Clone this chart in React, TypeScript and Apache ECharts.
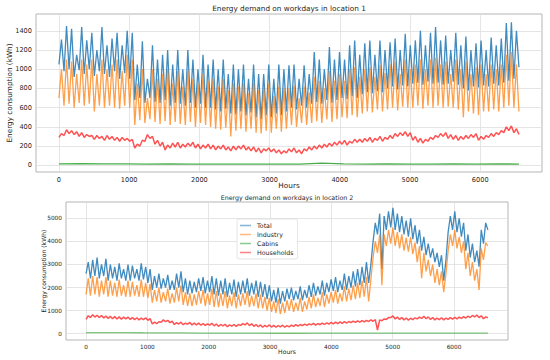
import React, { useEffect, useRef } from "react";
import * as echarts from "echarts";

// Sampling step (hours) of the dense series and of the cabins series
const STEP = 36;
const CABIN_STEP = 312;

const seriesNames = ["Total", "Industry", "Cabins", "Households"];
const xTicks = [0, 1000, 2000, 3000, 4000, 5000, 6000];
const yTicks1 = [0, 200, 400, 600, 800, 1000, 1200, 1400];
const yTicks2 = [0, 1000, 2000, 3000, 4000, 5000];

// ---- Location 1 ----
const total1 = [
  1050, 1310, 980, 1450, 1000, 1420, 920, 1150, 990, 1440,
  950, 1300, 1000, 1380, 930, 1200, 980, 1440, 950, 1250,
  920, 1320, 980, 1380, 900, 1250, 960, 1400, 900, 1380,
  680, 1050, 700, 1290, 650, 900, 700, 1250, 660, 1100,
  650, 1150, 680, 1200, 620, 1050, 650, 1200, 640, 1000,
  620, 1200, 650, 1100, 600, 1000, 640, 1150, 600, 1050,
  600, 1100, 580, 1000, 560, 1100, 590, 950, 540, 1050,
  530, 1000, 560, 1050, 520, 900, 550, 1050, 500, 950,
  480, 950, 520, 1050, 500, 900, 540, 1050, 520, 1000,
  560, 1040, 600, 1050, 580, 900, 620, 1040, 600, 950,
  640, 1180, 660, 1100, 640, 1000, 680, 1230, 650, 1100,
  680, 1180, 700, 1100, 690, 1250, 720, 1300, 700, 1150,
  740, 1270, 760, 1300, 750, 1150, 770, 1300, 760, 1200,
  800, 1280, 820, 1320, 790, 1200, 830, 1370, 820, 1250,
  850, 1300, 860, 1400, 840, 1250, 870, 1380, 850, 1440,
  860, 1300, 840, 1350, 850, 1200, 870, 1380, 840, 1250,
  800, 1340, 780, 1200, 820, 1270, 810, 1300, 830, 1200,
  820, 1330, 850, 1250, 830, 1320, 860, 1480, 880, 1490,
  900, 1400, 1020,
];
const industry1 = [
  700, 1000, 620, 1100, 640, 1080, 600, 950, 650, 1100,
  620, 1050, 640, 1100, 560, 950, 620, 1100, 600, 1000,
  620, 1050, 600, 1100, 590, 980, 620, 1150, 600, 1100,
  420, 850, 470, 1000, 440, 700, 480, 1000, 450, 900,
  430, 950, 460, 1000, 420, 850, 450, 980, 430, 820,
  420, 980, 450, 900, 400, 850, 440, 950, 420, 880,
  400, 900, 380, 820, 370, 900, 390, 780, 300, 850,
  360, 820, 380, 850, 350, 750, 380, 860, 340, 780,
  330, 800, 360, 850, 340, 720, 380, 820, 350, 800,
  380, 800, 420, 830, 400, 700, 440, 820, 420, 760,
  440, 920, 460, 880, 440, 800, 480, 980, 450, 880,
  480, 950, 500, 880, 490, 1000, 520, 1020, 500, 920,
  540, 1000, 560, 1020, 550, 920, 580, 1040, 560, 960,
  580, 1050, 600, 1080, 570, 950, 610, 1100, 600, 1000,
  600, 1050, 620, 1100, 590, 1000, 620, 1100, 600, 1120,
  620, 1050, 600, 1080, 610, 950, 600, 1100, 580, 1000,
  500, 1080, 560, 950, 540, 1020, 520, 1050, 560, 950,
  560, 1050, 580, 1000, 560, 1050, 600, 1150, 620, 1180,
  600, 1050, 560,
];
const cabins1 = [15, 16, 14, 15, 13, 14, 12, 12, 11, 11, 12, 13, 22, 14, 13, 14, 13, 13, 14, 13, 14, 13];
const households1 = [
  290, 330, 310, 370, 330, 360, 320, 350, 300, 340,
  290, 320, 300, 310, 270, 310, 280, 300, 260, 310,
  270, 300, 260, 290, 250, 290, 260, 280, 250, 270,
  180, 220, 200, 260, 250, 320, 280, 300, 220, 260,
  200, 240, 160, 210, 180, 230, 190, 240, 180, 220,
  190, 230, 200, 240, 180, 220, 170, 210, 180, 220,
  170, 210, 160, 200, 170, 210, 160, 190, 150, 200,
  160, 200, 170, 210, 160, 190, 150, 190, 140, 180,
  130, 170, 150, 180, 140, 170, 130, 160, 120, 150,
  130, 170, 140, 180, 130, 160, 120, 170, 150, 190,
  160, 200, 170, 210, 180, 220, 190, 230, 200, 240,
  210, 250, 220, 260, 210, 250, 230, 270, 240, 270,
  240, 280, 250, 290, 240, 280, 260, 300, 250, 290,
  270, 310, 280, 330, 300, 340, 310, 350, 300, 340,
  260, 300, 240, 280, 230, 270, 250, 290, 270, 310,
  290, 330, 300, 340, 280, 320, 270, 310, 260, 300,
  270, 310, 280, 320, 290, 330, 260, 300, 270, 310,
  290, 330, 300, 340, 320, 360, 340, 400, 360, 410,
  340, 380, 320,
];

// ---- Location 2 ----
const total2 = [
  2600, 3100, 2400, 3200, 2500, 3300, 2400, 3000, 2500, 3250,
  2300, 3000, 2400, 2900, 2300, 3050, 2400, 2800, 2300, 3000,
  2300, 2950, 2400, 2800, 2300, 3050, 2350, 2900, 2200, 2800,
  1900, 2500, 2000, 2600, 1950, 2400, 2000, 2550, 1900, 2300,
  1900, 2600, 2000, 2700, 1800, 2400, 1700, 2300, 1750, 2250,
  1800, 2400, 1850, 2450, 1750, 2300, 1800, 2500, 1700, 2400,
  1650, 2300, 1700, 2400, 1600, 2200, 1700, 2350, 1600, 2250,
  1700, 2300, 1750, 2400, 1650, 2200, 1700, 2300, 1600, 2250,
  1600, 2150, 1500, 2100, 1400, 1900, 1350, 2000, 1300, 1850,
  1400, 1950, 1500, 2000, 1450, 1850, 1500, 2050, 1450, 1900,
  1550, 2100, 1600, 2200, 1650, 2050, 1700, 2300, 1650, 2200,
  1800, 2350, 1850, 2450, 1800, 2300, 1900, 2600, 1900, 2500,
  2000, 2700, 2050, 2800, 2100, 2900, 2200, 3100, 2200, 3000,
  4000, 4800, 4300, 5200, 2800, 5100, 4500, 5300, 4600, 5450,
  4500, 5200, 4400, 5100, 4300, 4900, 4200, 5000, 4100, 4700,
  3900, 4500, 3600, 4200, 3400, 3900, 3300, 3700, 3100, 3500,
  2900, 3400, 2300, 3200, 4400, 5100, 4500, 5300, 4400, 5000,
  4200, 4800, 3600, 4300, 3300, 3900, 3100, 3600, 2900, 4500,
  3900, 4800, 4500,
];
const industry2 = [
  1700, 2400, 1650, 2500, 1700, 2450, 1600, 2300, 1700, 2450,
  1600, 2300, 1650, 2200, 1600, 2350, 1650, 2100, 1600, 2300,
  1600, 2250, 1650, 2100, 1600, 2350, 1600, 2200, 1550, 2150,
  1350, 1900, 1400, 2000, 1350, 1800, 1400, 1950, 1300, 1750,
  1350, 2000, 1400, 2100, 1250, 1800, 1200, 1750, 1200, 1700,
  1250, 1850, 1300, 1900, 1200, 1750, 1250, 1950, 1150, 1850,
  1150, 1750, 1200, 1850, 1100, 1650, 1200, 1800, 1100, 1700,
  1200, 1750, 1250, 1850, 1150, 1650, 1200, 1750, 1100, 1700,
  1100, 1600, 1000, 1550, 950, 1400, 900, 1500, 850, 1350,
  900, 1450, 1000, 1500, 950, 1350, 1000, 1550, 950, 1400,
  1050, 1600, 1100, 1700, 1150, 1550, 1200, 1800, 1150, 1700,
  1300, 1800, 1350, 1900, 1300, 1750, 1400, 2050, 1400, 1950,
  1450, 2100, 1500, 2200, 1550, 2300, 1600, 2450, 1400, 2350,
  3300, 4000, 3500, 4300, 2100, 4300, 3800, 4500, 3900, 4600,
  3800, 4400, 3700, 4300, 3600, 4150, 3550, 4200, 3450, 3950,
  3100, 3800, 2400, 3500, 2700, 3200, 2500, 3000, 2200, 2800,
  2100, 2700, 1800, 2600, 3600, 4300, 3800, 4500, 3700, 4200,
  3500, 4000, 2800, 3500, 2500, 3100, 2300, 2800, 1900, 3700,
  3200, 3950, 3800,
];
const cabins2 = [50, 48, 45, 42, 40, 35, 30, 28, 25, 22, 20, 20, 22, 22, 24, 25, 26, 26, 28, 28, 30, 30];
const households2 = [
  620, 780, 700, 820, 720, 800, 700, 790, 680, 770,
  660, 760, 650, 740, 640, 730, 630, 720, 640, 720,
  620, 700, 610, 690, 600, 680, 610, 690, 580, 660,
  420, 500, 440, 520, 500, 600, 520, 580, 480, 540,
  400, 480, 420, 500, 390, 460, 410, 490, 380, 460,
  380, 460, 370, 440, 360, 430, 370, 450, 340, 420,
  320, 400, 340, 410, 300, 380, 330, 400, 320, 400,
  360, 440, 380, 470, 350, 430, 320, 400, 300, 380,
  280, 360, 300, 380, 290, 360, 280, 350, 300, 370,
  280, 350, 300, 370, 320, 390, 330, 400, 350, 420,
  360, 430, 380, 450, 370, 440, 390, 460, 400, 470,
  420, 490, 430, 500, 440, 510, 450, 520, 460, 530,
  480, 550, 490, 560, 500, 570, 510, 580, 530, 600,
  540, 610, 160, 600, 560, 640, 620, 700, 700, 770,
  640, 720, 620, 700, 600, 680, 590, 670, 610, 690,
  640, 720, 660, 760, 650, 730, 620, 700, 600, 680,
  610, 690, 600, 680, 620, 700, 630, 710, 640, 720,
  660, 740, 680, 760, 700, 790, 730, 810, 700, 780,
  650, 730, 690,
];

const COLORS = ["#1f77b4", "#ff7f0e", "#2ca02c", "#ff1a1a"];
const FONT = "DejaVu Sans";
const TXT = "#262626";

function toPairs(values: number[], step: number) {
  return values.map((v, i) => [i * step, v]);
}

const plain = (v: number) => String(v);

function makeAxes(gridIndex: number, fs: number, nameFs: number, yMin: number, yMax: number, yTicks: number[], yGap: number, xGap: number) {
  const xAxis = {
    type: "value",
    gridIndex,
    min: -327,
    max: 6880,
    name: "Hours",
    nameLocation: "middle",
    nameGap: xGap,
    nameMoveOverlap: false,
    nameTextStyle: { fontSize: nameFs, color: TXT, fontFamily: FONT },
    axisLine: { show: false },
    axisTick: { show: false, customValues: xTicks },
    axisLabel: { customValues: xTicks, formatter: plain, fontSize: fs, color: TXT, fontFamily: FONT, margin: 4 },
    splitLine: { show: true, lineStyle: { color: "#dedede", width: 0.8 } },
  };
  const yAxis = {
    type: "value",
    gridIndex,
    min: yMin,
    max: yMax,
    name: "Energy consumption (kWh)",
    nameLocation: "middle",
    nameGap: yGap,
    nameMoveOverlap: false,
    nameTextStyle: { fontSize: nameFs, color: TXT, fontFamily: FONT },
    axisLine: { show: false },
    axisTick: { show: false, customValues: yTicks },
    axisLabel: { customValues: yTicks, formatter: plain, fontSize: fs, color: TXT, fontFamily: FONT, margin: 4 },
    splitLine: { show: true, lineStyle: { color: "#dedede", width: 0.8 } },
  };
  return { xAxis, yAxis };
}

function lineSeries(name: string, data: number[][], idx: number, color: string, width: number, opacity: number) {
  return {
    name,
    type: "line",
    xAxisIndex: idx,
    yAxisIndex: idx,
    data,
    showSymbol: false,
    symbol: "none",
    lineStyle: { color, width, opacity },
    itemStyle: { color },
    emphasis: { disabled: true },
    silent: true,
  };
}

export default function App() {
  const ref = useRef<HTMLDivElement>(null);
  useEffect(() => {
    if (!ref.current) return;
    const chart = echarts.init(ref.current, undefined, { renderer: "svg" });
    const a1 = makeAxes(0, 6.6, 7.3, -70, 1575, yTicks1, 23, 10);
    const a2 = makeAxes(1, 5.8, 6.1, -272, 5706, yTicks2, 19.5, 8);
    const option = {
      animation: false,
      backgroundColor: "#ffffff",
      title: [
        {
          text: "Energy demand on workdays in location 1",
          left: 289,
          top: 5,
          textAlign: "center",
          padding: 0,
          textStyle: { fontSize: 7.3, fontWeight: "normal", color: TXT, fontFamily: FONT },
        },
        {
          text: "Energy demand on workdays in location 2",
          left: 287,
          top: 194,
          textAlign: "center",
          padding: 0,
          textStyle: { fontSize: 6.3, fontWeight: "normal", color: TXT, fontFamily: FONT },
        },
      ],
      legend: {
        data: seriesNames,
        orient: "vertical",
        left: 237,
        top: 219,
        padding: [3, 4, 3, 3],
        itemGap: 2,
        itemWidth: 11,
        itemHeight: 1.5,
        icon: "rect",
        backgroundColor: "#ffffff",
        borderColor: "#dddddd",
        borderWidth: 0.8,
        borderRadius: 2,
        itemStyle: { opacity: 0.55 },
        textStyle: { fontSize: 6.3, color: TXT, fontFamily: FONT, lineHeight: 7, padding: [0, 0, 0, 1] },
        selectedMode: false,
      },
      grid: [
        { left: 36, top: 14, width: 506, height: 158, show: true, outerBoundsMode: "none", containLabel: false, borderColor: "#b5b5b5", borderWidth: 1, backgroundColor: "transparent" },
        { left: 66, top: 202, width: 442, height: 138, show: true, outerBoundsMode: "none", containLabel: false, borderColor: "#b5b5b5", borderWidth: 1, backgroundColor: "transparent" },
      ],
      xAxis: [a1.xAxis, a2.xAxis],
      yAxis: [a1.yAxis, a2.yAxis],
      series: [
        lineSeries("Total", toPairs(total1, STEP), 0, COLORS[0], 1.3, 0.85),
        lineSeries("Industry", toPairs(industry1, STEP), 0, COLORS[1], 1.3, 0.75),
        lineSeries("Cabins", toPairs(cabins1, CABIN_STEP), 0, COLORS[2], 1.3, 0.85),
        lineSeries("Households", toPairs(households1, STEP), 0, COLORS[3], 1.5, 0.75),
        lineSeries("Total", toPairs(total2, STEP), 1, COLORS[0], 1.3, 0.85),
        lineSeries("Industry", toPairs(industry2, STEP), 1, COLORS[1], 1.3, 0.75),
        lineSeries("Cabins", toPairs(cabins2, CABIN_STEP), 1, COLORS[2], 1.3, 0.6),
        lineSeries("Households", toPairs(households2, STEP), 1, COLORS[3], 1.5, 0.75),
      ],
    };
    chart.setOption(option as any);
    return () => chart.dispose();
  }, []);
  return (
    <div
      ref={ref}
      style={{ position: "absolute", left: 0, top: 0, width: 550, height: 360, background: "#fff" }}
    />
  );
}
